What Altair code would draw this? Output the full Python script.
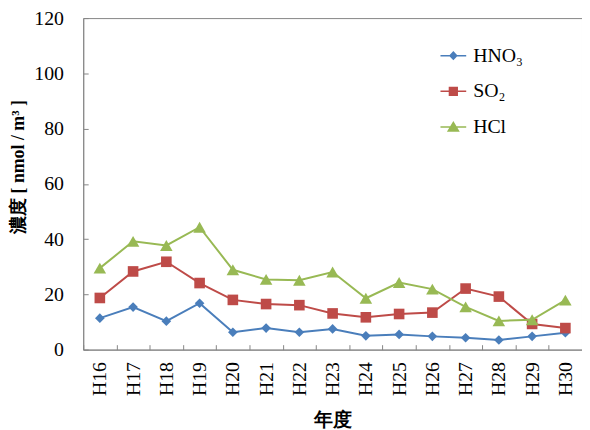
import altair as alt
import pandas as pd

# ---- data ----
years = ["H16", "H17", "H18", "H19", "H20", "H21", "H22", "H23",
         "H24", "H25", "H26", "H27", "H28", "H29", "H30"]
hno3 = [11.4, 15.4, 10.3, 16.8, 6.3, 7.8, 6.3, 7.5, 5.0, 5.5, 4.8, 4.3, 3.5, 4.8, 6.1]
so2 = [18.7, 28.3, 31.8, 24.1, 18.0, 16.5, 16.1, 13.1, 11.7, 12.9, 13.4, 22.1, 19.2, 9.3, 7.8]
hcl = [29.5, 39.2, 37.7, 44.3, 28.9, 25.4, 25.1, 28.1, 18.6, 24.3, 21.9, 15.5, 10.4, 10.8, 17.9]
series_names = ["HNO₃", "SO₂", "HCl"]
y_ticks = [0, 20, 40, 60, 80, 100, 120]

# ---- styles ----
colors = ["#4A7EBB", "#BE4B48", "#98B954"]
marker_shapes = ["diamond", "square", "triangle-up"]
marker_sizes = [95, 115, 160]
# legend symbols: a short line (thin bar) with the marker in the middle
legend_paths = [
    "M-1,-0.06H1V0.06H-1ZM0,-0.36L0.34,0L0,0.36L-0.34,0Z",
    "M-1,-0.06H1V0.06H-1ZM-0.36,-0.36H0.36V0.36H-0.36Z",
    "M-1,-0.06H1V0.06H-1ZM0,-0.46L0.5,0.38H-0.5Z",
]
FRAME = "#868686"
SERIF = "Liberation Serif"

rows = []
for name, vals in zip(series_names, [hno3, so2, hcl]):
    for yr, v in zip(years, vals):
        rows.append({"year": yr, "value": v, "series": name})
df = pd.DataFrame(rows)

x_scale = alt.Scale(domain=years)
y_scale = alt.Scale(domain=[0, 120], nice=False)

x_axis = alt.Axis(
    orient="bottom", title="年度", labelAngle=270, labelFont=SERIF,
    labelFontSize=20, labelColor="black", labelPadding=12, ticks=False,
    tickSize=0, domainColor=FRAME, titleFont=SERIF, titleFontSize=19,
    titleFontWeight="bold", titleColor="black", titlePadding=15, grid=False,
)
y_axis = alt.Axis(
    orient="left", values=y_ticks, title="濃度 [ nmol / m³ ]", labelFont=SERIF,
    labelFontSize=20, labelColor="black", labelPadding=20, ticks=False,
    tickSize=0, domainColor=FRAME, titleFont=SERIF, titleFontSize=18,
    titleFontWeight="bold", titleColor="black", titlePadding=6, grid=False,
    titleY=150,
)

def xe(axis=None):
    return alt.X("year:N", sort=years, scale=x_scale, axis=axis)

def ye(axis=None):
    return alt.Y("value:Q", scale=y_scale, axis=axis)

layers = []
for i, (name, col, shp, sz) in enumerate(zip(series_names, colors, marker_shapes, marker_sizes)):
    base = alt.Chart(df).transform_filter(alt.datum.series == name)
    if i == 0:
        layers.append(base.mark_line(strokeWidth=2, color=col).encode(x=xe(x_axis), y=ye(y_axis)))
    else:
        layers.append(base.mark_line(strokeWidth=2, color=col).encode(x=xe(), y=ye()))
    layers.append(base.mark_point(filled=True, shape=shp, size=sz, opacity=1, color=col)
                  .encode(x=xe(), y=ye()))

leg = alt.Legend(
    title=None, orient="none", legendX=361, legendY=25, symbolSize=676,
    labelFont=SERIF, labelFontSize=20, labelColor="black",
    labelOffset=7, rowPadding=13, labelLimit=300, symbolOpacity=1,
    symbolStrokeWidth=0,
)
legend_layer = alt.Chart(df).mark_point(filled=True, opacity=0).encode(
    x=xe(), y=ye(),
    color=alt.Color("series:N", scale=alt.Scale(domain=series_names, range=colors), legend=leg),
    shape=alt.Shape("series:N", scale=alt.Scale(domain=series_names, range=legend_paths), legend=leg),
)
layers.append(legend_layer)

# inner tick marks (ticks pointing into the plot)
tick_layer = alt.Chart(df).mark_point(opacity=0).encode(
    x=xe(alt.Axis(orient="bottom", offset=-5, labels=False, domain=False,
                  title=None, ticks=True, tickSize=5, tickOffset=-16.8,
                  tickColor=FRAME, grid=False)),
    y=ye(alt.Axis(orient="left", offset=-5, labels=False, domain=False,
                  title=None, ticks=True, tickSize=5, values=y_ticks,
                  tickColor=FRAME, grid=False)),
)
layers.append(tick_layer)

chart = (
    alt.layer(*layers)
    .resolve_axis(x="independent", y="independent")
    .properties(
        width=504, height=335,
        padding={"left": 76, "top": 8, "right": 0, "bottom": 78},
        autosize=alt.AutoSizeParams(type="none"),
        background="white",
    )
    .configure_view(stroke=FRAME, strokeWidth=1)
)

chart.save("out.html", embed_options={"renderer": "svg", "actions": False})
